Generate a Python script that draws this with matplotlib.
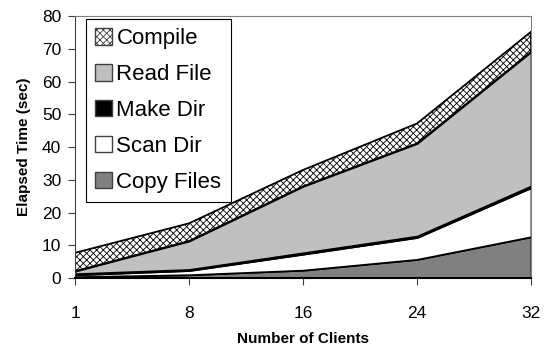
import numpy as np
import matplotlib.pyplot as plt
from matplotlib.patches import Patch

plt.rcParams['font.family'] = ['Liberation Sans', 'DejaVu Sans']
plt.rcParams['hatch.linewidth'] = 0.6

# data (seconds per phase, stacked bottom to top)
clients = ['1', '8', '16', '24', '32']
copy_files = [0.4, 1.0, 2.4, 5.7, 12.6]
scan_dir = [0.6, 1.3, 4.9, 6.7, 15.0]
make_dir = [0.3, 0.3, 0.4, 0.4, 0.5]
read_file = [0.8, 8.7, 20.3, 28.3, 41.0]
compile_t = [5.6, 5.4, 5.0, 6.1, 6.1]

x = np.arange(len(clients))

fig = plt.figure(figsize=(5.48, 3.49), dpi=100)
ax = fig.add_axes([0.137, 0.2034, 0.832, 0.7506])

layers = [copy_files, scan_dir, make_dir, read_file, compile_t]
colors = ['#808080', 'white', 'black', '#c0c0c0', 'white']
polys = ax.stackplot(x, *layers, colors=colors, edgecolor='black', linewidth=1.3)
polys[4].set_hatch('xxxxx')

ax.set_xlim(0, 4)
ax.set_ylim(0, 80)
ax.set_xticks(x)
ax.set_xticklabels(clients)
ax.set_yticks(range(0, 81, 10))
ax.tick_params(axis='both', labelsize=12.5, length=5, color='#404040')
ax.tick_params(axis='x', pad=15)
ax.tick_params(axis='y', pad=5)
for s in ['top', 'right']:
    ax.spines[s].set_color('#808080')
    ax.spines[s].set_linewidth(0.8)
ax.spines['left'].set_color('#404040')
ax.spines['bottom'].set_linewidth(1.5)

ax.set_xlabel('Number of Clients', fontsize=11, fontweight='bold', labelpad=8)
ax.set_ylabel('Elapsed Time (sec)', fontsize=11, fontweight='bold', labelpad=8)

handles = [Patch(facecolor='white', edgecolor='#404040', hatch='xxxxx'),
           Patch(facecolor='#c0c0c0', edgecolor='#404040'),
           Patch(facecolor='black', edgecolor='#404040'),
           Patch(facecolor='white', edgecolor='#404040'),
           Patch(facecolor='#808080', edgecolor='#404040')]
labels = ['Compile', 'Read File', 'Make Dir', 'Scan Dir', 'Copy Files']
leg = ax.legend(handles, labels, loc='upper left', bbox_to_anchor=(0.024, 0.989),
                fontsize=16, handlelength=0.75, handleheight=0.75, handletextpad=0.2,
                labelspacing=0.67, borderpad=0.42, fancybox=False, framealpha=1,
                edgecolor='black', borderaxespad=0.0)
leg.get_frame().set_linewidth(0.8)

fig.savefig('out.png', dpi=100)
